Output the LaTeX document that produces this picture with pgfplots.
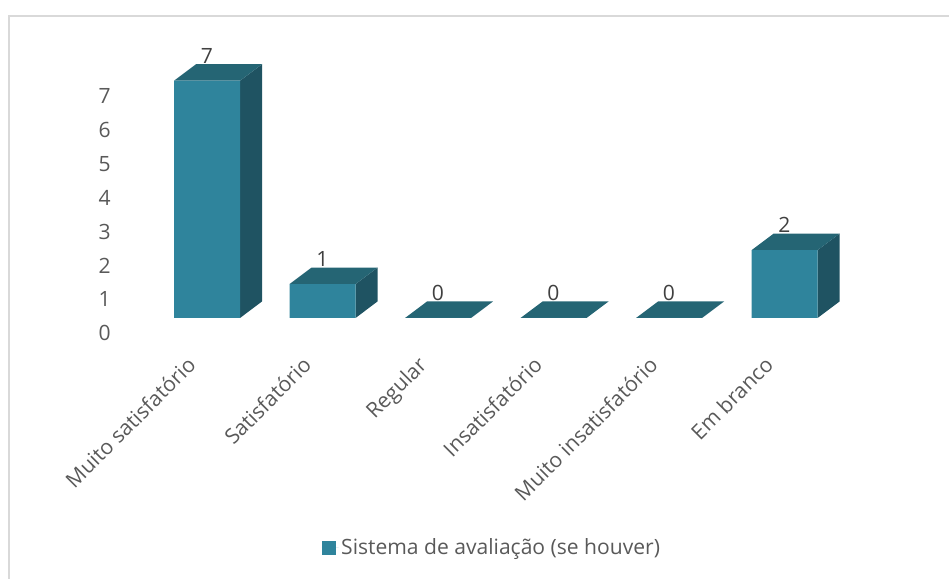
\documentclass[border=0pt]{standalone}
\usepackage{pgfplots}
\pgfplotsset{compat=1.18}
\usepackage{fontspec}
\setmainfont{Open Sans}
\definecolor{front}{HTML}{2F849C}
\definecolor{topf}{HTML}{256574}
\definecolor{side}{HTML}{1F5362}
\definecolor{txt}{HTML}{595959}
\definecolor{val}{HTML}{404040}
\begin{document}
\begin{tikzpicture}
\begin{axis}[
  scale only axis, width=711.75pt, height=434.25pt,
  xmin=-1.7922, xmax=6.4242, ymin=-7.699, ymax=9.381,
  axis x line=bottom, axis y line=left,
  axis line style={draw=none,-}, major tick length=0pt,
  xtick={0,1,2,3,4,5},
  xticklabels={Muito satisfatório,Satisfatório,Regular,Insatisfatório,Muito insatisfatório,Em branco},
  ytick={0,1,2,3,4,5,6,7},
  x tick label style={text=txt, font=\fontsize{15.8}{18}\selectfont, inner sep=0pt, xshift=-16pt, yshift=168pt, anchor=north east, rotate=45},
  y tick label style={text=txt, font=\fontsize{15.8}{18}\selectfont, anchor=center, inner sep=0pt, xshift=78.5pt, yshift=-11.5pt},
  /pgf/number format/assume math mode=true,
  legend style={at={(axis cs:2.47,-6.78)}, anchor=center, draw=none, fill=none, text=txt, font=\fontsize{15.8}{18}\selectfont, inner sep=0pt},
  legend image code/.code={\fill[front] (0pt,-5.25pt) rectangle (10.5pt,5.25pt); \path (0pt,0pt) -- (12.5pt,0pt);},
  clip=false,
]
% chart frame
\addplot[draw=black!15, line width=1.5pt, forget plot] coordinates {(-1.718,-7.699) (-1.718,8.92) (6.4242,8.92)};
% side faces
\addplot[fill=side, draw=none, forget plot] coordinates {(0.2857,0) (0.4762,0.487) (0.4762,7.487) (0.2857,7)} -- cycle;
\addplot[fill=side, draw=none, forget plot] coordinates {(1.2857,0) (1.4762,0.487) (1.4762,1.487) (1.2857,1)} -- cycle;
\addplot[fill=side, draw=none, forget plot] coordinates {(5.2857,0) (5.4762,0.487) (5.4762,2.487) (5.2857,2)} -- cycle;
% top faces
\addplot[fill=topf, draw=none, forget plot] coordinates {(-0.2857,7) (0.2857,7) (0.4762,7.487) (-0.0952,7.487)} -- cycle;
\addplot[fill=topf, draw=none, forget plot] coordinates {(0.7143,1) (1.2857,1) (1.4762,1.487) (0.9048,1.487)} -- cycle;
\addplot[fill=topf, draw=none, forget plot] coordinates {(1.7143,0) (2.2857,0) (2.4762,0.487) (1.9048,0.487)} -- cycle;
\addplot[fill=topf, draw=none, forget plot] coordinates {(2.7143,0) (3.2857,0) (3.4762,0.487) (2.9048,0.487)} -- cycle;
\addplot[fill=topf, draw=none, forget plot] coordinates {(3.7143,0) (4.2857,0) (4.4762,0.487) (3.9048,0.487)} -- cycle;
\addplot[fill=topf, draw=none, forget plot] coordinates {(4.7143,2) (5.2857,2) (5.4762,2.487) (4.9048,2.487)} -- cycle;
% front faces with the values
\addplot[ybar, bar width=49.5pt, fill=front, draw=none,
  nodes near coords, point meta=y,
  every node near coord/.append style={text=val, font=\fontsize{15.8}{18}\selectfont, anchor=south, inner sep=0pt, yshift=13pt},
] coordinates {(0,7) (1,1) (2,0) (3,0) (4,0) (5,2)};
\addlegendentry{Sistema de avaliação (se houver)}
\end{axis}
\pgfresetboundingbox
\useasboundingbox (current axis.south west) rectangle (current axis.north east);
\end{tikzpicture}
\end{document}
